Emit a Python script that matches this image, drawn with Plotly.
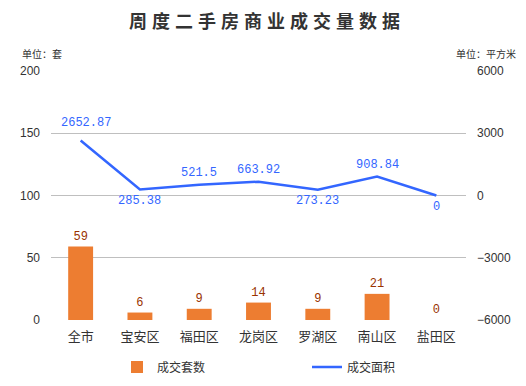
import plotly.graph_objects as go

categories = ["全市", "宝安区", "福田区", "龙岗区", "罗湖区", "南山区", "盐田区"]
units_sold = [59, 6, 9, 14, 9, 21, 0]
area_sold = [2652.87, 285.38, 521.5, 663.92, 273.23, 908.84, 0]
area_labels = ["2652.87", "285.38", "521.5", "663.92", "273.23", "908.84", "0"]
left_ticks = [0, 50, 100, 150, 200]
right_ticks = [-6000, -3000, 0, 3000, 6000]

# label placement for the area labels (above / below the line)
label_side = ["above", "below", "above", "above", "below", "above", "below"]

# the page body adds an 8px margin, so the figure is laid out 8px up/left
OFF = 8
W, H = 526 - 2 * OFF, 386 - 2 * OFF
L = 51 - OFF
T = 71 - OFF
R = W - (466 - OFF)
B = H - (320 - OFF)
pw = W - L - R
ph = H - T - B


def px_x(x):
    return (x - OFF - L) / pw


def px_y(y):
    return (H - B - (y - OFF)) / ph


fig = go.Figure()
fig.add_trace(go.Bar(
    x=categories, y=units_sold, name="成交套数",
    marker=dict(color="#ED7D31", line=dict(width=0)),
    width=0.42,
    text=[str(v) for v in units_sold], textposition="outside",
    textfont=dict(color="#993300", size=12, family="Liberation Mono, DejaVu Sans Mono"),
    cliponaxis=False,
))
fig.add_trace(go.Scatter(
    x=categories, y=area_sold, name="成交面积", yaxis="y2",
    mode="lines",
    line=dict(color="#3366FF", width=2.5),
    cliponaxis=False,
))

annotations = []
for i, (c, v, t, s) in enumerate(zip(categories, area_sold, area_labels, label_side)):
    shift = 12 if s == "above" else -11
    xs = 0
    if i == 0:
        shift = 17
        xs = 5
    annotations.append(dict(
        x=c, y=v, xref="x", yref="y2", text=t, showarrow=False,
        yshift=shift, xshift=xs,
        font=dict(color="#3366FF", size=12, family="Liberation Mono, DejaVu Sans Mono"),
    ))

annotations.append(dict(text="单位：套", x=px_x(20), y=px_y(53),
                        xref="paper", yref="paper", showarrow=False,
                        xanchor="left", yanchor="middle",
                        font=dict(size=10, color="#333333")))
annotations.append(dict(text="单位：平方米", x=px_x(518), y=px_y(53),
                        xref="paper", yref="paper", showarrow=False,
                        xanchor="right", yanchor="middle",
                        font=dict(size=10, color="#333333")))

fig.update_layout(
    width=W, height=H,
    margin=dict(l=L, r=R, t=T, b=B, autoexpand=False),
    paper_bgcolor="white", plot_bgcolor="white",
    font=dict(family="Noto Sans CJK SC, Liberation Sans", color="#333333", size=11),
    title=dict(
        text="<b><span style='letter-spacing:5px'>周度二手房商业成交量数据</span></b>",
        x=(267 - OFF) / W, xanchor="center", y=(H - (22 - OFF)) / H, yanchor="middle",
        font=dict(size=18, color="#333333", family="Noto Sans CJK SC"),
    ),
    xaxis=dict(
        showgrid=False, showline=False, ticks="", automargin=False,
        tickfont=dict(size=13, color="#333333", family="Noto Sans CJK SC"),
        ticklabelstandoff=7,
    ),
    yaxis=dict(
        range=[0, 200], tickvals=left_ticks, showgrid=True, gridcolor="#BFBFBF",
        gridwidth=1, zeroline=False, showline=False, ticks="", automargin=False,
        tickfont=dict(size=12, color="#333333", family="Liberation Sans"),
        ticklabelstandoff=10,
    ),
    yaxis2=dict(
        range=[-6000, 6000], tickvals=right_ticks, overlaying="y", side="right",
        showgrid=False, zeroline=False, showline=False, ticks="", automargin=False,
        tickfont=dict(size=12, color="#333333", family="Liberation Sans"),
        ticklabelstandoff=10,
    ),
    legend=dict(
        orientation="h", x=px_x(117), xanchor="left", y=px_y(367), yanchor="middle",
        font=dict(size=12, color="#333333", family="Noto Sans CJK SC"),
        entrywidth=145, entrywidthmode="pixels",
    ),
    annotations=annotations,
)

fig.write_html("out.html")
